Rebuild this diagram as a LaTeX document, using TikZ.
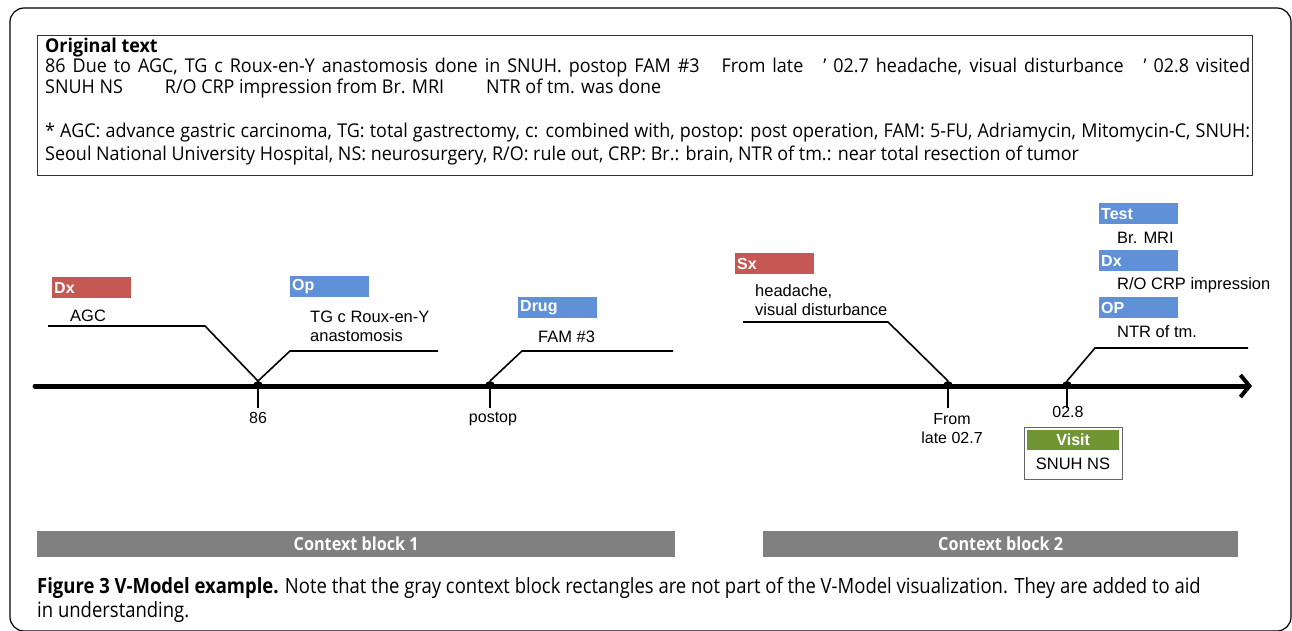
\documentclass[tikz,border=0pt]{standalone}
\usepackage{fontspec}
\setmainfont[FakeStretch=0.945]{Open Sans}
\newfontfamily\lblfont{Liberation Sans}
\newfontfamily\capfont[FakeStretch=0.88]{Open Sans}
\newfontfamily\ctxfont[FakeStretch=0.9]{Open Sans}
\usetikzlibrary{arrows.meta}
\definecolor{redbox}{RGB}{198,88,84}
\definecolor{bluebox}{RGB}{96,144,216}
\definecolor{greenbox}{RGB}{112,150,52}
\definecolor{ctxgray}{RGB}{128,128,128}
\tikzset{
  txt/.style={font=\fontsize{19}{22}\selectfont, anchor=base west, inner sep=0pt},
  lbl/.style={font=\lblfont\fontsize{16.5}{19}\selectfont, anchor=base west, inner sep=0pt, align=left},
  tag/.style={anchor=north west, minimum width=79pt, minimum height=21pt, text width=75pt, align=left,
              inner xsep=2pt, inner ysep=0pt, text=white,
              font=\lblfont\bfseries\fontsize{16}{16}\selectfont},
  redtag/.style={tag, fill=redbox},
  bluetag/.style={tag, fill=bluebox},
  callout/.style={line width=1.6pt},
  tick/.style={line width=2.2pt},
  ticklbl/.style={font=\lblfont\fontsize{16}{19}\selectfont, anchor=north, inner sep=0pt, align=center},
  ctx/.style={fill=ctxgray, anchor=north west, inner sep=0pt, minimum height=26pt, text=white,
              font=\ctxfont\bfseries\fontsize{18}{18}\selectfont},
}
\begin{document}
\begin{tikzpicture}[x=1pt,y=-1pt]
\useasboundingbox (0,0) rectangle (1292,630);
% outer frame
\draw[line width=1.2pt, rounded corners=14pt] (10,8) rectangle (1291,631);
% original text box
\draw[line width=1pt, black!80] (37,35) rectangle (1252,175);
\node[txt, font=\bfseries\fontsize{19}{22}\selectfont] (t0) at (45,52) {Original text};
\node[txt] (t1) at (45,72) {\makebox[1205pt][s]{86 Due to AGC, TG c Roux-en-Y anastomosis done in SNUH. postop FAM \#3\hspace*{22pt}From late\hspace*{20pt}' 02.7 headache, visual disturbance\hspace*{20pt}' 02.8 visited}};
\node[txt] (t2) at (45,93) {SNUH NS\hspace*{42pt}R/O CRP impression from Br. MRI\hspace*{42pt}NTR of tm. was done};
\node[txt] (t3) at (45,137) {\makebox[1205pt][s]{* AGC: advance gastric carcinoma, TG: total gastrectomy, c: combined with, postop: post operation, FAM: 5-FU, Adriamycin, Mitomycin-C, SNUH:}};
\node[txt] (t4) at (45,160) {Seoul National University Hospital, NS: neurosurgery, R/O: rule out, CRP: Br.: brain, NTR of tm.: near total resection of tumor};

% axis
\coordinate (a0) at (35,386);
\coordinate (a1) at (1252,386);
\draw[line width=5pt, line cap=round, -{Straight Barb[length=9pt,width=22pt,line width=4pt]}] (a0) -- (a1);

% ticks
\foreach \n/\x in {p1/258, p2/490, p3/948, p4/1067}{
  \coordinate (\n) at (\x,381);
  \fill (\x-5,386) arc[start angle=180, end angle=0, radius=5pt];
  \draw[tick] (\x,386) -- (\x,408);
}
\node[ticklbl] (l1) at (258,412) {86};
\node[ticklbl] (l2) at (493,412) {postop};
\node[ticklbl] (l3) at (952,413) {From\\late 02.7};
\node[ticklbl] (l4) at (1068,406) {02.8};

% Dx AGC
\node[redtag] (dx1) at (52,277) {Dx};
\node[lbl] (agc) at (70,321) {AGC};
\coordinate (c1) at (48,326);
\draw[callout] (c1) -- (205,326) -- (p1);
% Op
\node[bluetag] (op1) at (290,276) {Op};
\node[lbl] (tg) at (310,341) {TG c Roux-en-Y\\anastomosis};
\coordinate (c2) at (438,351);
\draw[callout] (p1) -- (290,351) -- (c2);
% Drug
\node[bluetag] (drug) at (518,297) {Drug};
\node[lbl] (fam) at (538,342) {FAM \#3};
\coordinate (c3) at (673,351);
\draw[callout] (p2) -- (522,351) -- (c3);
% Sx
\node[redtag] (sx) at (735,253) {Sx};
\node[lbl] (ha) at (755,315) {headache,\\visual disturbance};
\coordinate (c4) at (743,322);
\draw[callout] (c4) -- (888,322) -- (p3);
% Test / Dx / OP
\node[bluetag] (test) at (1099,203) {Test};
\node[lbl] (mri) at (1117,243) {Br. MRI};
\node[bluetag] (dx2) at (1099,250) {Dx};
\node[lbl] (rop) at (1117,289) {R/O CRP impression};
\node[bluetag] (op2) at (1099,297) {OP};
\node[lbl] (ntr) at (1117,337) {NTR of tm.};
\coordinate (c5) at (1248,348);
\draw[callout] (p4) -- (1095,348) -- (c5);
% Visit
\draw[line width=1pt, black!60] (1024,427) rectangle (1122,479);
\node[fill=greenbox, anchor=north west, minimum width=92pt, minimum height=20pt, inner sep=0pt, text=white,
      font=\lblfont\bfseries\fontsize{16}{16}\selectfont] (visit) at (1027,430) {Visit};
\node[font=\lblfont\fontsize{16.5}{19}\selectfont, inner sep=0pt] (snuh) at (1073,464) {SNUH NS};

% context blocks
\node[ctx, minimum width=638pt] (cb1) at (37,531) {Context block 1};
\node[ctx, minimum width=475pt] (cb2) at (763,531) {Context block 2};

% caption
\node[anchor=base west, inner sep=0pt, font=\capfont\fontsize{21}{24}\selectfont] (cap1) at (37,593)
  {{\bfseries Figure 3 V-Model example.} Note that the gray context block rectangles are not part of the V-Model visualization. They are added to aid};
\node[anchor=base west, inner sep=0pt, font=\capfont\fontsize{21}{24}\selectfont] (cap2) at (37,617)
  {in understanding.};
\end{tikzpicture}
\end{document}
